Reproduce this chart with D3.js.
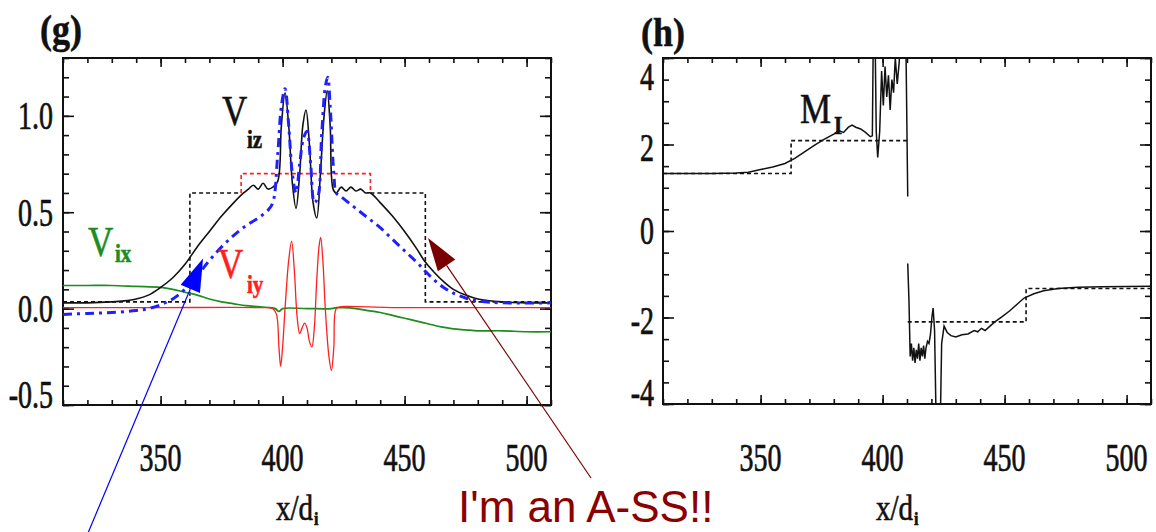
<!DOCTYPE html>
<html>
<head>
<meta charset="utf-8">
<script src="https://cdn.jsdelivr.net/npm/d3@7"></script>
<style>
body { margin: 0; background: #fff; }
svg { display: block; }
</style>
</head>
<body>
<script>
// ---- data ----
var xTicks = [350, 400, 450, 500];
var gYTicks = [-0.5, 0.0, 0.5, 1.0];
var hYTicks = [-4, -2, 0, 2, 4];

// panel (g): V_iz (black)
var vizX = [310, 320, 330, 335, 340, 345, 350, 355, 360, 365, 370, 375, 380, 384, 386, 388, 390, 392, 394, 396, 398, 399.5, 401, 402.5, 404, 405.5, 407, 408.3, 409.6, 411, 412.5, 414, 415.5, 417, 418.3, 419.5, 420.7, 422, 424, 426, 428, 430, 432, 434, 436, 440, 445, 450, 455, 458, 462, 466, 470, 475, 480, 490, 500, 510];
var vizY = [0.03, 0.03, 0.035, 0.04, 0.05, 0.07, 0.11, 0.16, 0.23, 0.32, 0.40, 0.48, 0.55, 0.60, 0.62, 0.64, 0.62, 0.65, 0.62, 0.63, 0.66, 0.95, 1.12, 0.95, 0.65, 0.52, 0.7, 0.95, 1.03, 0.85, 0.55, 0.47, 0.7, 1.0, 1.13, 0.95, 0.62, 0.60, 0.63, 0.61, 0.63, 0.61, 0.62, 0.60, 0.60, 0.55, 0.48, 0.40, 0.31, 0.25, 0.19, 0.14, 0.10, 0.07, 0.05, 0.035, 0.03, 0.03];
// panel (g): unlabelled blue dash-dot
var blueX = [310, 320, 330, 340, 345, 350, 355, 360, 365, 370, 375, 380, 385, 390, 394, 396, 398, 399.5, 401, 402.5, 404, 405.5, 407, 408.5, 410, 411.5, 413, 414.5, 416, 417.5, 418.5, 419.5, 421, 422, 424, 428, 432, 436, 440, 445, 450, 455, 458, 462, 466, 470, 475, 480, 490, 510];
var blueY = [-0.03, -0.025, -0.02, -0.01, 0.0, 0.02, 0.05, 0.10, 0.17, 0.25, 0.32, 0.38, 0.43, 0.47, 0.51, 0.55, 0.8, 1.05, 1.14, 0.95, 0.7, 0.6, 0.75, 0.88, 0.92, 0.75, 0.55, 0.58, 0.9, 1.15, 1.2, 1.05, 0.7, 0.6, 0.58, 0.54, 0.50, 0.46, 0.42, 0.36, 0.30, 0.24, 0.20, 0.15, 0.11, 0.08, 0.055, 0.04, 0.03, 0.03];
// panel (g): V_ix (green)
var vixX = [310, 320, 330, 340, 350, 355, 360, 365, 370, 375, 380, 385, 390, 395, 397, 398.5, 400, 410, 420, 422, 425, 430, 435, 440, 445, 450, 455, 460, 465, 470, 475, 480, 490, 500, 510];
var vixY = [0.12, 0.12, 0.12, 0.115, 0.11, 0.10, 0.085, 0.07, 0.05, 0.035, 0.025, 0.015, 0.01, 0.005, 0.0, -0.015, 0.0, 0.0, 0.0, 0.005, 0.005, 0.0, -0.01, -0.02, -0.035, -0.05, -0.065, -0.08, -0.095, -0.105, -0.11, -0.115, -0.115, -0.12, -0.12];
// panel (g): V_iy (red)
var viyX = [310, 350, 390, 396, 397.5, 398.5, 399.2, 400, 401, 402.5, 403.7, 404.8, 406, 407, 408, 409, 410, 411, 412, 413, 414, 415, 415.6, 416.5, 417.5, 419, 420, 421, 422, 424, 430, 450, 480, 510];
var viyY = [0.005, 0.005, 0.005, 0.0, -0.03, -0.2, -0.3, -0.2, 0.0, 0.25, 0.35, 0.2, -0.05, -0.13, -0.1, -0.075, -0.1, -0.17, -0.2, -0.1, 0.15, 0.33, 0.37, 0.25, 0.0, -0.25, -0.32, -0.2, 0.0, 0.01, 0.01, 0.005, 0.005, 0.005];
// panel (g): dotted reference levels
var stepLeftX = [310, 362, 362, 383];
var stepLeftY = [0.035, 0.035, 0.6, 0.6];
var stepRightX = [436, 458.5, 458.5, 510];
var stepRightY = [0.6, 0.6, 0.035, 0.035];
var boxRedX = [383, 383, 436, 436];
var boxRedY = [0.6, 0.7, 0.7, 0.6];

// panel (h): M_I upper and lower branch
var miUpX = [310, 330, 340, 345, 350, 355, 360, 364, 368, 372, 376, 380, 382, 384, 386, 387.5, 389, 391, 393, 395, 395.8, 396.2, 396.9, 397.4, 398, 398.8, 399.6, 400.3, 401, 401.7, 402.4, 403.1, 403.8, 404.5, 405.2, 406, 406.8, 407.5, 408.2, 409.5, 410.3];
var miUpY = [1.33, 1.33, 1.34, 1.36, 1.42, 1.48, 1.56, 1.68, 1.83, 1.98, 2.12, 2.24, 2.32, 2.28, 2.4, 2.45, 2.4, 2.36, 2.28, 2.18, 2.2, 4.6, 4.6, 2.3, 1.7, 2.3, 3.7, 2.9, 3.8, 3.1, 3.6, 2.8, 3.5, 3.2, 4.0, 3.4, 3.9, 4.6, 4.6, 4.6, 0.8];
var miLoX = [410.3, 410.8, 411.3, 411.8, 412.3, 412.8, 413.3, 413.8, 414.3, 414.8, 415.3, 415.8, 416.3, 416.8, 417.3, 417.8, 418.4, 419, 419.6, 420.2, 420.7, 421.3, 422, 423.6, 424.2, 425.2, 426.5, 428, 430, 432.5, 435, 437.5, 439, 440.5, 442, 444, 446, 449, 452, 455, 458, 462, 466, 472, 480, 490, 510];
var miLoY = [-0.75, -1.6, -2.9, -2.6, -3.0, -2.7, -3.05, -2.75, -2.95, -2.6, -3.0, -2.7, -2.9, -2.65, -2.95, -2.7, -2.55, -2.6, -2.4, -2.0, -1.78, -2.3, -4.6, -4.6, -2.6, -2.2, -2.35, -2.42, -2.45, -2.4, -2.38, -2.3, -2.33, -2.25, -2.3, -2.2, -2.1, -1.98, -1.85, -1.7, -1.55, -1.45, -1.38, -1.33, -1.3, -1.29, -1.28];
var miStepX = [310, 362.5, 362.5, 410.3];
var miStepY = [1.33, 1.33, 2.09, 2.09];
var miStep2X = [410.3, 458.8, 458.8, 510];
var miStep2Y = [-2.1, -2.1, -1.33, -1.33];

// ---- drawing ----
var serif = "'Liberation Serif','Times New Roman',serif";
var svg = d3.select("body").append("svg")
  .attr("width", 1156)
  .attr("height", 532);

function pts(xs, ys) { return xs.map(function(x, i) { return [x, ys[i]]; }); }

// stretched serif text (the picture is taller than it is wide)
function stext(x, y, str, size, sy, anchor, weight, fill) {
  return svg.append("text")
    .attr("transform", "translate(" + x + "," + y + ") scale(1," + sy + ")")
    .attr("text-anchor", anchor || "start")
    .style("font-family", serif)
    .style("font-size", size + "px")
    .style("font-weight", weight || "normal")
    .attr("fill", fill || "#111")
    .attr("stroke", fill || "#111")
    .attr("stroke-width", 0.5)
    .text(str);
}

function panel(id, x, y, yTicks, yMinor, fmt, labelShift, labelX) {
  var g = svg.append("g");
  var x0 = x.range()[0], x1 = x.range()[1], y0 = y.range()[0], y1 = y.range()[1];

  g.append("clipPath").attr("id", id)
    .append("rect").attr("x", x0).attr("y", y1).attr("width", x1 - x0).attr("height", y0 - y1);

  var xMinor = d3.range(310, 511, 10);
  var axes = [
    [d3.axisBottom(x).tickValues(xMinor).tickSize(-5), [0, y0]],
    [d3.axisBottom(x).tickValues(xTicks).tickSize(-9), [0, y0]],
    [d3.axisTop(x).tickValues(xMinor).tickSize(-5), [0, y1]],
    [d3.axisTop(x).tickValues(xTicks).tickSize(-9), [0, y1]],
    [d3.axisLeft(y).tickValues(yMinor).tickSize(-6), [x0, 0]],
    [d3.axisLeft(y).tickValues(yTicks).tickSize(-11), [x0, 0]],
    [d3.axisRight(y).tickValues(yMinor).tickSize(-6), [x1, 0]],
    [d3.axisRight(y).tickValues(yTicks).tickSize(-11), [x1, 0]]
  ];
  axes.forEach(function(a) {
    var ag = g.append("g")
      .attr("transform", "translate(" + a[1][0] + "," + a[1][1] + ")")
      .call(a[0].tickFormat(""));
    ag.select(".domain").remove();
    ag.selectAll("line").attr("stroke", "#111").attr("stroke-width", 1.6);
  });

  g.append("rect")
    .attr("x", x0).attr("y", y1)
    .attr("width", x1 - x0).attr("height", y0 - y1)
    .attr("fill", "none").attr("stroke", "#111").attr("stroke-width", 2);

  xTicks.forEach(function(v) {
    stext(x(v), 470.5, String(v), 28, 1.45, "middle");
  });
  yTicks.forEach(function(v, i) {
    // plain hyphen for the minus sign, as in the picture
    var s = d3.format(fmt)(v).replace("\u2212", "-");
    stext(labelX, y(v) + 13.4 + labelShift[i], s, 28, 1.45, "end");
  });

  // x/d_i
  var cx = (x0 + x1) / 2;
  stext(cx + 6, 520, "x/d", 29, 1.2, "end");
  stext(cx + 7, 525, "i", 16, 1.2, "start", "bold");
  return g;
}

// ---- panel (g) ----
var xg = d3.scaleLinear().domain([310, 510]).range([63, 551]);
var yg = d3.scaleLinear().domain([-0.5, 1.3]).range([405, 58]);
var gMinor = d3.range(-5, 14).map(function(d) { return d / 10; });
var pg = panel("clipg", xg, yg, gYTicks, gMinor, ".1f", [-10, 0, 0, 0], 53);

var smooth = d3.line().x(function(d) { return xg(d[0]); }).y(function(d) { return yg(d[1]); })
  .curve(d3.curveCatmullRom.alpha(0.5));
var straight = d3.line().x(function(d) { return xg(d[0]); }).y(function(d) { return yg(d[1]); });
var cg = pg.append("g").attr("clip-path", "url(#clipg)");

cg.append("path").attr("d", straight(pts(stepLeftX, stepLeftY)))
  .attr("fill", "none").attr("stroke", "#111").attr("stroke-width", 1.6).attr("stroke-dasharray", "4,3");
cg.append("path").attr("d", straight(pts(stepRightX, stepRightY)))
  .attr("fill", "none").attr("stroke", "#111").attr("stroke-width", 1.6).attr("stroke-dasharray", "4,3");
cg.append("path").attr("d", straight(pts(boxRedX, boxRedY)))
  .attr("fill", "none").attr("stroke", "#ff2020").attr("stroke-width", 1.6).attr("stroke-dasharray", "4,3");

cg.append("path").attr("d", smooth(pts(vixX, vixY)))
  .attr("fill", "none").attr("stroke", "#1e8c1e").attr("stroke-width", 1.7);
cg.append("path").attr("d", smooth(pts(viyX, viyY)))
  .attr("fill", "none").attr("stroke", "#ff2020").attr("stroke-width", 1.3);
cg.append("path").attr("d", smooth(pts(vizX, vizY)))
  .attr("fill", "none").attr("stroke", "#111").attr("stroke-width", 1.6);
cg.append("path").attr("d", smooth(pts(blueX, blueY)))
  .attr("fill", "none").attr("stroke", "#2020ff").attr("stroke-width", 3)
  .attr("stroke-dasharray", "9,5,3,5");

stext(40, 43, "(g)", 36, 1.1, "start", "bold");
stext(222, 125, "V", 35, 1.2, "start");
stext(247, 148, "iz", 21, 1.2, "start", "bold");
stext(88, 256, "V", 35, 1.2, "start", "normal", "#1e8c1e");
stext(115, 262, "ix", 21, 1.2, "start", "bold", "#1e8c1e");
stext(218, 278, "V", 35, 1.2, "start", "normal", "#ff2020");
stext(247, 293, "iy", 21, 1.2, "start", "bold", "#ff2020");

// ---- panel (h) ----
var xh = d3.scaleLinear().domain([310, 510]).range([663, 1151]);
var yh = d3.scaleLinear().domain([-4, 4]).range([404, 58]);
var hMinor = d3.range(-8, 9).map(function(d) { return d / 2; });
var ph = panel("cliph", xh, yh, hYTicks, hMinor, "d", [-11, 3, 0, 3, 19], 654);

var lineH = d3.line().x(function(d) { return xh(d[0]); }).y(function(d) { return yh(d[1]); });
var ch = ph.append("g").attr("clip-path", "url(#cliph)");
ch.append("path").attr("d", lineH(pts(miStepX, miStepY)))
  .attr("fill", "none").attr("stroke", "#111").attr("stroke-width", 1.6).attr("stroke-dasharray", "4,3");
ch.append("path").attr("d", lineH(pts(miStep2X, miStep2Y)))
  .attr("fill", "none").attr("stroke", "#111").attr("stroke-width", 1.6).attr("stroke-dasharray", "4,3");
ch.append("path").attr("d", lineH(pts(miUpX, miUpY)))
  .attr("fill", "none").attr("stroke", "#111").attr("stroke-width", 1.5);
ch.append("path").attr("d", lineH(pts(miLoX, miLoY)))
  .attr("fill", "none").attr("stroke", "#111").attr("stroke-width", 1.5);

stext(641, 46, "(h)", 36, 1.1, "start", "bold");
stext(800, 123, "M", 35, 1.2, "start");
stext(834, 134, "I", 21, 1.2, "start", "bold");

// ---- annotation arrows ----
function arrow(tail, tip, color) {
  var dx = tail[0] - tip[0], dy = tail[1] - tip[1];
  var len = Math.sqrt(dx * dx + dy * dy);
  var ux = dx / len, uy = dy / len;
  var bx = tip[0] + 33 * ux, by = tip[1] + 33 * uy;
  svg.append("line")
    .attr("x1", tail[0]).attr("y1", tail[1]).attr("x2", bx).attr("y2", by)
    .attr("stroke", color).attr("stroke-width", 1.2);
  svg.append("path")
    .attr("d", "M" + tip[0] + "," + tip[1] +
      "L" + (bx - 10.5 * uy) + "," + (by + 10.5 * ux) +
      "L" + (bx + 10.5 * uy) + "," + (by - 10.5 * ux) + "Z")
    .attr("fill", color);
}
arrow([88, 533], [xg(367.4), yg(0.26)], "#0000ff");
arrow([591, 478], [xg(459.6), yg(0.366)], "#7a0000");

svg.append("text")
  .attr("x", 458).attr("y", 522)
  .style("font-family", "'Liberation Sans', Arial, sans-serif")
  .style("font-size", "44px")
  .attr("fill", "#8b0000")
  .text("I'm an A-SS!!");
</script>
</body>
</html>
